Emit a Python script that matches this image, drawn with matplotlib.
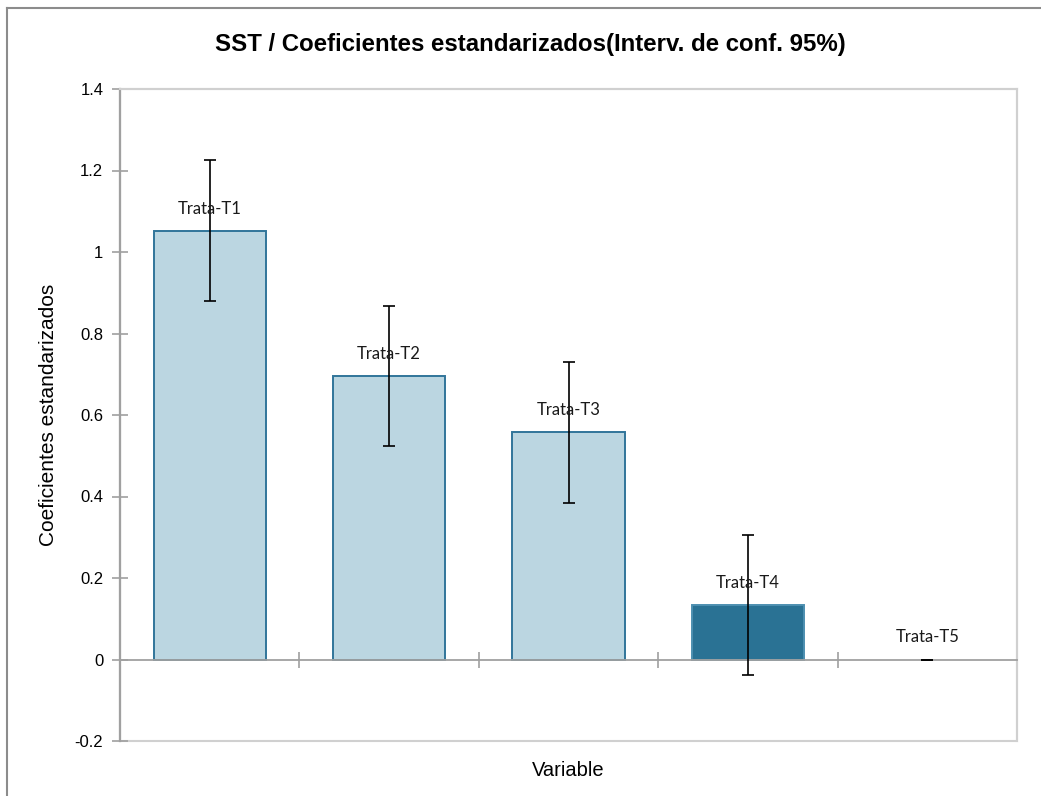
import numpy as np
import matplotlib
matplotlib.use('Agg')
import matplotlib.pyplot as plt
from matplotlib.patches import Rectangle
from matplotlib.lines import Line2D

plt.rcParams['font.family'] = ['Liberation Sans', 'DejaVu Sans']

variables = ['Trata-T1', 'Trata-T2', 'Trata-T3', 'Trata-T4', 'Trata-T5']
coefs = [1.052, 0.696, 0.558, 0.134, 0.0]
ci_half = [0.173, 0.172, 0.173, 0.172, 0.0]
y_ticks = [-0.2, 0, 0.2, 0.4, 0.6, 0.8, 1, 1.2, 1.4]
y_ticklabels = ['-0.2', '0', '0.2', '0.4', '0.6', '0.8', '1', '1.2', '1.4']

light = '#bbd6e1'
dark = '#2a7294'
edge = '#31759a'
axis_gray = '#a0a0a0'
frame_gray = '#d0d0d0'

fig = plt.figure(figsize=(10.41, 7.96), dpi=100)
ax = fig.add_axes([120/1041, 1 - 741/796, 897/1041, 652/796])

x = np.arange(len(variables))
fills = [light, light, light, dark, light]
edges = [edge, edge, edge, '#4d8fb0', edge]
# a zero-height bar shows no outline
widths = [1.4 if v != 0 else 0 for v in coefs]
ax.bar(x, coefs, width=0.625, color=fills, edgecolor=edges, linewidth=widths, zorder=2)
ax.errorbar(x, coefs, yerr=ci_half, fmt='none', ecolor='black', elinewidth=1.2,
            capsize=4.3, capthick=1.2, zorder=3)

for xi, v, name in zip(x, coefs, variables):
    ax.annotate(name, (xi, v), xytext=(0, 16), textcoords='offset points',
                ha='center', va='center', fontsize=12, color='#1a1a1a',
                family=['Lato', 'DejaVu Sans'], zorder=4)

ax.set_xlim(-0.5, len(variables) - 0.5)
ax.set_ylim(-0.2, 1.4)
ax.set_yticks(y_ticks)
ax.set_yticklabels(y_ticklabels)

# bottom axis sits on zero, ticks between categories
ax.spines['bottom'].set_position(('data', 0))
ax.spines['bottom'].set_color(axis_gray)
ax.spines['bottom'].set_linewidth(1.3)
ax.spines['bottom'].set_zorder(2.5)
ax.set_xticks(x[1:] - 0.5)
ax.set_xticks([len(variables) - 0.5], minor=True)
ax.tick_params(axis='x', which='both', direction='inout', length=11, width=1.2,
               color=axis_gray, labelbottom=False)

ax.spines['left'].set_color(axis_gray)
ax.spines['left'].set_linewidth(1.6)
ax.tick_params(axis='y', direction='inout', length=12, width=1.2, color=axis_gray,
               pad=6, labelsize=12, labelcolor='black')
for side in ['top', 'right']:
    ax.spines[side].set_color(frame_gray)
    ax.spines[side].set_linewidth(1.5)
ax.add_patch(Rectangle((0, 0), 1, 1, transform=ax.transAxes, fill=False,
                       edgecolor=frame_gray, linewidth=1.5, clip_on=False, zorder=0))

ax.set_ylabel('Coeficientes estandarizados', fontsize=15, labelpad=12)
ax.set_xlabel('Variable', fontsize=14.5)
ax.xaxis.set_label_coords(0.5, -0.03)

fig.text(530/1041, 1 - 45/796, 'SST / Coeficientes estandarizados(Interv. de conf. 95%)',
         ha='center', va='center', fontsize=17.3, fontweight='bold')

# chart area border (left and top edges)
fig.add_artist(Line2D([7/1041, 7/1041], [0, 1 - 8/796], transform=fig.transFigure,
                      color='#8c8c8c', linewidth=1.5))
fig.add_artist(Line2D([7/1041, 1], [1 - 8/796, 1 - 8/796], transform=fig.transFigure,
                      color='#8c8c8c', linewidth=1.5))

fig.savefig('out.png', dpi=100, facecolor='white')
